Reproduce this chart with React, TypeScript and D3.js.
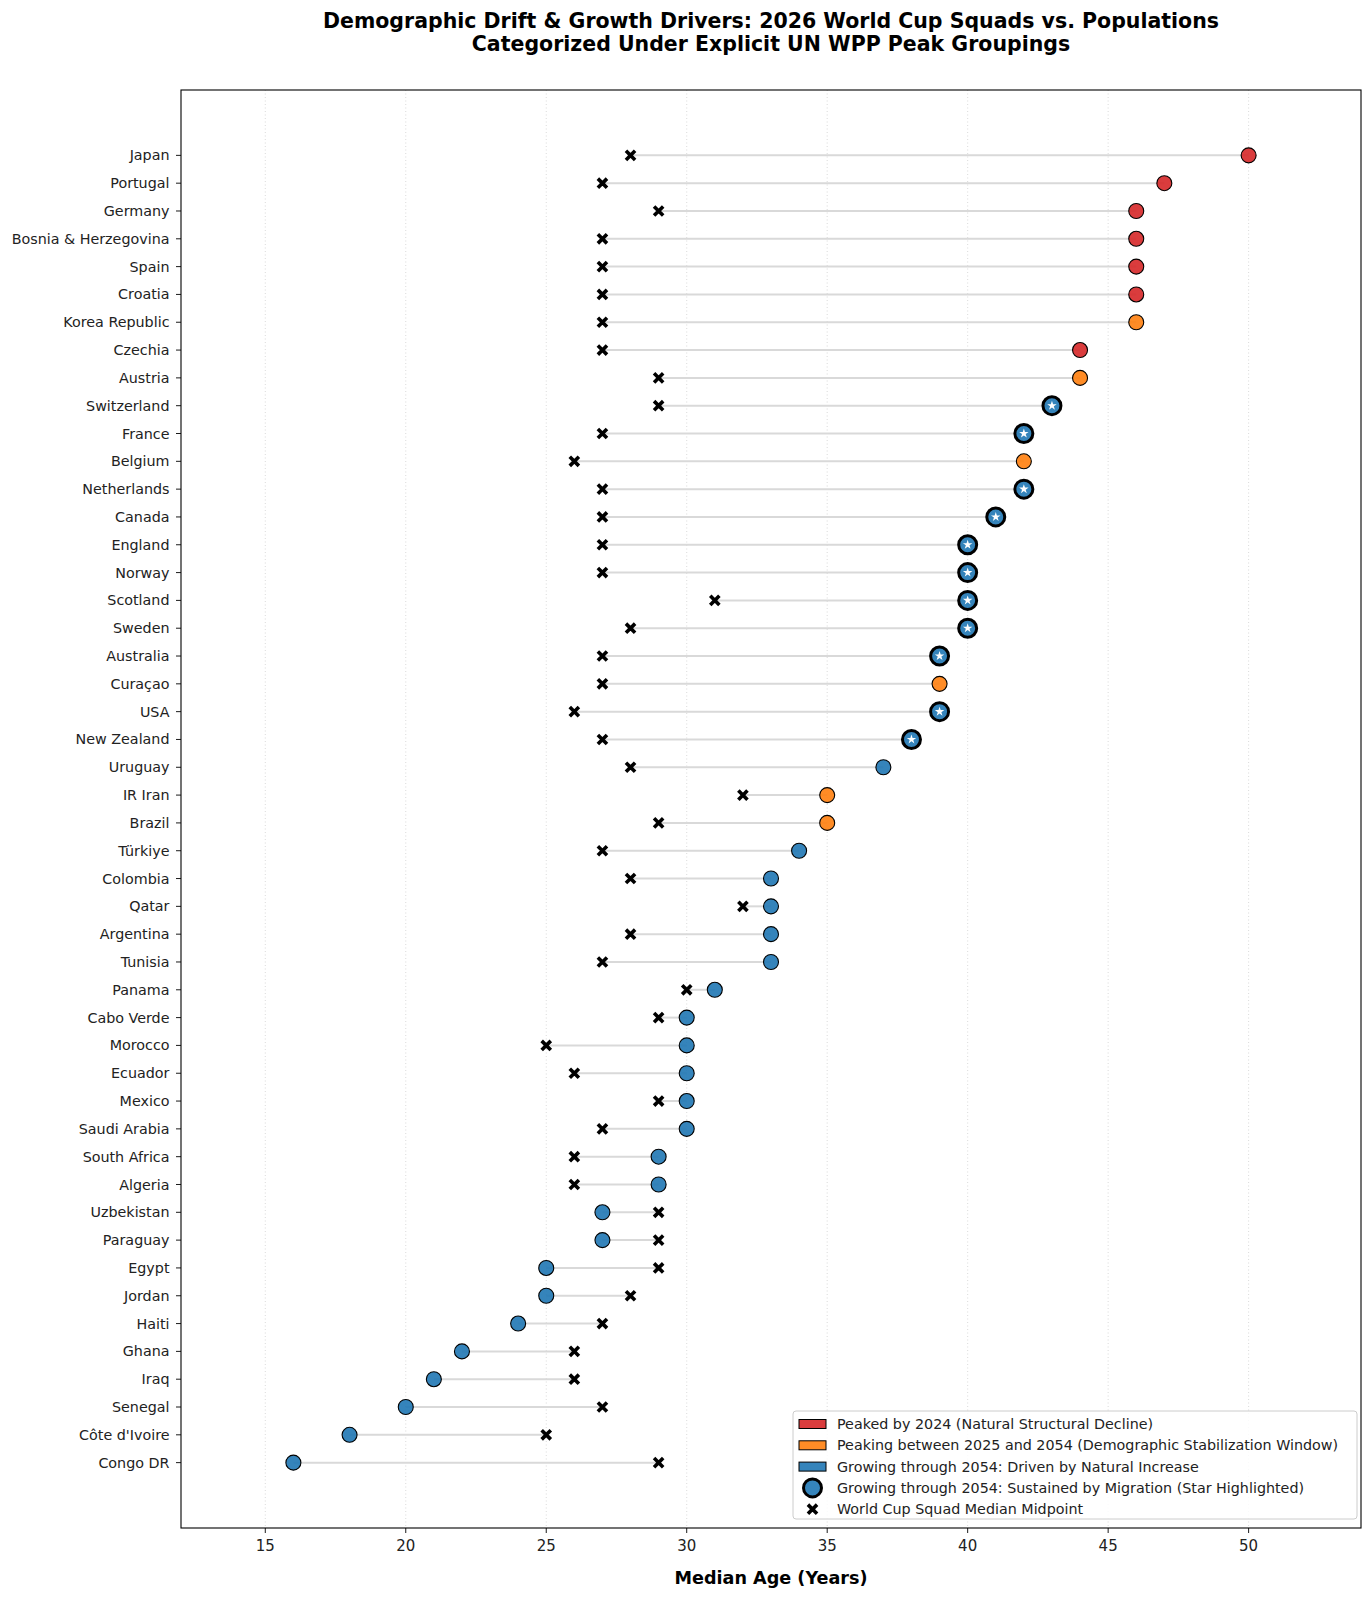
import React from 'react';
import * as d3 from 'd3';

// Countries sorted by population median age (top to bottom)
const countries = [
  'Japan', 'Portugal', 'Germany', 'Bosnia & Herzegovina', 'Spain', 'Croatia', 'Korea Republic',
  'Czechia', 'Austria', 'Switzerland', 'France', 'Belgium', 'Netherlands', 'Canada', 'England',
  'Norway', 'Scotland', 'Sweden', 'Australia', 'Curaçao', 'USA', 'New Zealand', 'Uruguay',
  'IR Iran', 'Brazil', 'Türkiye', 'Colombia', 'Qatar', 'Argentina', 'Tunisia', 'Panama',
  'Cabo Verde', 'Morocco', 'Ecuador', 'Mexico', 'Saudi Arabia', 'South Africa', 'Algeria',
  'Uzbekistan', 'Paraguay', 'Egypt', 'Jordan', 'Haiti', 'Ghana', 'Iraq', 'Senegal',
  "Côte d'Ivoire", 'Congo DR',
];

const populationMedian = [
  50, 47, 46, 46, 46, 46, 46, 44, 44, 43, 42, 42, 42, 41, 40, 40, 40, 40, 39, 39, 39, 38, 37,
  35, 35, 34, 33, 33, 33, 33, 31, 30, 30, 30, 30, 30, 29, 29, 27, 27, 25, 25, 24, 22, 21, 20,
  18, 16,
];

const squadMedian = [
  28, 27, 29, 27, 27, 27, 27, 27, 29, 29, 27, 26, 27, 27, 27, 27, 31, 28, 27, 27, 26, 27, 28,
  32, 29, 27, 28, 32, 28, 27, 30, 29, 25, 26, 29, 27, 26, 26, 29, 29, 29, 28, 27, 26, 26, 27,
  25, 29,
];

// P = peaked by 2024, S = peaking 2025-2054, N = natural increase, M = migration
const groups = [
  'P', 'P', 'P', 'P', 'P', 'P', 'S', 'P', 'S', 'M', 'M', 'S', 'M', 'M', 'M', 'M', 'M', 'M', 'M',
  'S', 'M', 'M', 'N', 'S', 'S', 'N', 'N', 'N', 'N', 'N', 'N', 'N', 'N', 'N', 'N', 'N', 'N', 'N',
  'N', 'N', 'N', 'N', 'N', 'N', 'N', 'N', 'N', 'N',
];

const xTicks = [15, 20, 25, 30, 35, 40, 45, 50];

const legendLabels = [
  'Peaked by 2024 (Natural Structural Decline)',
  'Peaking between 2025 and 2054 (Demographic Stabilization Window)',
  'Growing through 2054: Driven by Natural Increase',
  'Growing through 2054: Sustained by Migration (Star Highlighted)',
  'World Cup Squad Median Midpoint',
];

const groupColor: { [k: string]: string } = {
  P: '#d62728',
  S: '#ff7f0e',
  N: '#1f77b4',
  M: '#1f77b4',
};

const W = 1370;
const H = 1600;
const margin = { top: 90, right: 9, bottom: 72, left: 181 };
const font = "'DejaVu Sans', sans-serif";

const App: React.FC = () => {
  const innerW = W - margin.left - margin.right;
  const innerH = H - margin.top - margin.bottom;

  const x = d3.scaleLinear().domain([12, 54]).range([0, innerW]);
  const y = d3.scaleLinear().domain([-2.35, countries.length - 1 + 2.35]).range([0, innerH]);

  const xMark = d3.symbol(d3.symbolX, 56)()!;
  const star = d3.symbol(d3.symbolStar, 28)()!;

  const legendX = 793 - margin.left;
  const legendY = 1411 - margin.top;
  const rowH = 21.3;

  return (
    <svg
      width={W}
      height={H}
      style={{ position: 'absolute', left: 0, top: 0, background: '#fff', fontFamily: font }}
    >
      <text x={margin.left + innerW / 2} y={27.5} textAnchor="middle" fontSize={20.5} fontWeight="bold">
        Demographic Drift &amp; Growth Drivers: 2026 World Cup Squads vs. Populations
      </text>
      <text x={margin.left + innerW / 2} y={50.5} textAnchor="middle" fontSize={20.5} fontWeight="bold">
        Categorized Under Explicit UN WPP Peak Groupings
      </text>

      <g transform={`translate(${margin.left},${margin.top})`}>
        {/* grid */}
        {xTicks.map(t => (
          <line key={`g${t}`} x1={x(t)} x2={x(t)} y1={0} y2={innerH}
            stroke="#d0d0d0" strokeWidth={0.8} strokeDasharray="1,2.5" />
        ))}

        {/* connectors */}
        {countries.map((c, i) => (
          <line key={`l${c}`} x1={x(squadMedian[i])} x2={x(populationMedian[i])}
            y1={y(i)} y2={y(i)} stroke="#d9d9d9" strokeWidth={2} />
        ))}

        {/* squad markers */}
        {countries.map((c, i) => (
          <path key={`x${c}`} d={xMark} transform={`translate(${x(squadMedian[i])},${y(i)})`}
            stroke="#000" strokeWidth={3.6} fill="none" />
        ))}

        {/* population markers */}
        {countries.map((c, i) => {
          const g = groups[i];
          const cx = x(populationMedian[i]);
          const cy = y(i);
          if (g === 'M') {
            return (
              <g key={`p${c}`} transform={`translate(${cx},${cy})`}>
                <circle r={9} fill={groupColor[g]} fillOpacity={0.9} stroke="#000" strokeWidth={3} />
                <path d={star} fill="#fff" />
              </g>
            );
          }
          return (
            <circle key={`p${c}`} cx={cx} cy={cy} r={7.5} fill={groupColor[g]} fillOpacity={0.9}
              stroke="#000" strokeWidth={1.1} />
          );
        })}

        {/* frame */}
        <rect x={0} y={0} width={innerW} height={innerH} fill="none" stroke="#000" strokeWidth={1.1} />

        {/* y axis */}
        {countries.map((c, i) => (
          <g key={`y${c}`} transform={`translate(0,${y(i)})`}>
            <line x1={-5} x2={0} stroke="#000" strokeWidth={0.9} />
            <text x={-11.5} dy="0.35em" textAnchor="end" fontSize={14.3} fill="#222">{c}</text>
          </g>
        ))}

        {/* x axis */}
        {xTicks.map(t => (
          <g key={`t${t}`} transform={`translate(${x(t)},${innerH})`}>
            <line y1={0} y2={5} stroke="#000" strokeWidth={0.9} />
            <text y={18} dy="0.35em" textAnchor="middle" fontSize={15} fill="#222">{t}</text>
          </g>
        ))}
        <text x={innerW / 2} y={innerH + 56} textAnchor="middle" fontSize={17.6} fontWeight="bold">
          Median Age (Years)
        </text>

        {/* legend */}
        <g transform={`translate(${legendX},${legendY})`}>
          <rect x={0} y={0} width={564} height={108} rx={3} fill="#fff" fillOpacity={0.85}
            stroke="#ccc" strokeWidth={1} />
          {legendLabels.map((lab, i) => {
            const ry = 13 + i * rowH;
            let sym: React.ReactNode;
            if (i < 3) {
              const col = groupColor[['P', 'S', 'N'][i]];
              sym = <rect x={6} y={ry - 4.5} width={27} height={9} fill={col} fillOpacity={0.9}
                stroke="#000" strokeWidth={1} />;
            } else if (i === 3) {
              sym = <circle cx={19.5} cy={ry} r={9} fill={groupColor.M} fillOpacity={0.9}
                stroke="#000" strokeWidth={3} />;
            } else {
              sym = <path d={xMark} transform={`translate(19.5,${ry})`} stroke="#000"
                strokeWidth={3.6} fill="none" />;
            }
            return (
              <g key={lab}>
                {sym}
                <text x={44} y={ry} dy="0.35em" fontSize={14.3} fill="#222">{lab}</text>
              </g>
            );
          })}
        </g>
      </g>
    </svg>
  );
};

export default App;
